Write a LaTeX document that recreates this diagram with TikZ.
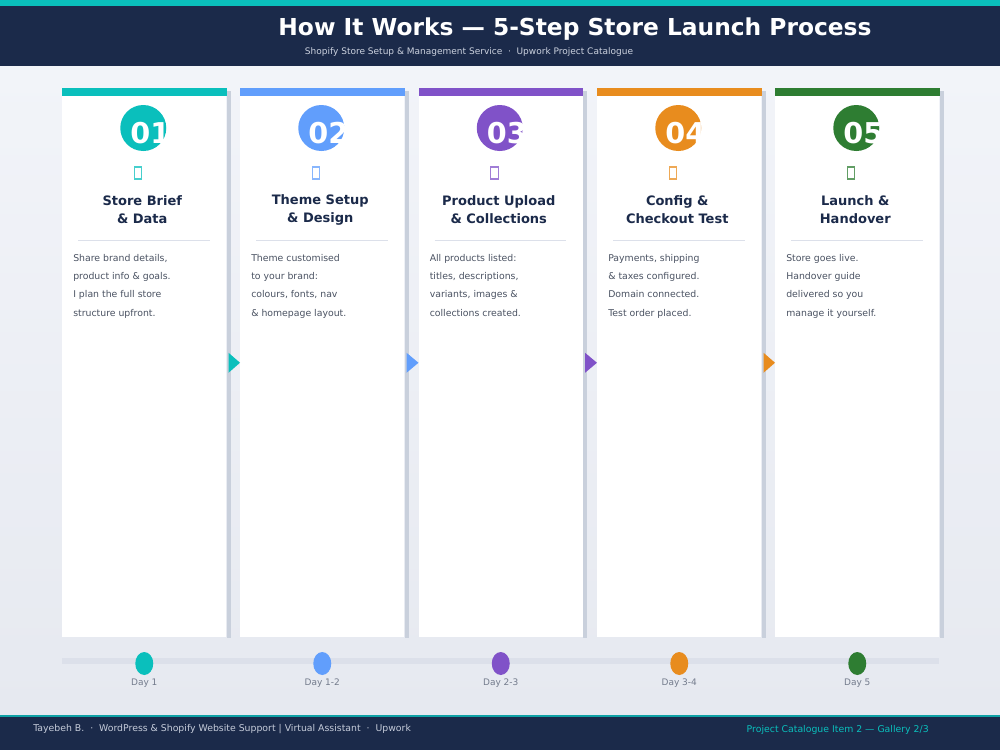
\documentclass[tikz,border=0pt]{standalone}
\usepackage{fontspec}
\setmainfont{DejaVu Sans}
\usepackage{tikz}
\usetikzlibrary{positioning,calc}
\definecolor{navy}{HTML}{1B2A4A}
\definecolor{tealc}{HTML}{0ABFBC}
\definecolor{bluec}{HTML}{619EFC}
\definecolor{purplec}{HTML}{8052C8}
\definecolor{orangec}{HTML}{E88C1E}
\definecolor{greenc}{HTML}{2E7D32}
\definecolor{bodygrey}{HTML}{4A5262}
\definecolor{daygrey}{HTML}{737B8C}
\definecolor{trackgrey}{HTML}{DCE0EA}
\definecolor{shadowgrey}{HTML}{C9D0DC}
\definecolor{footgrey}{HTML}{C5CCDA}
\definecolor{bgtop}{HTML}{F2F4F9}
\definecolor{bgbottom}{HTML}{E6E9F0}
% one step card: id, left x, colour, number, title, body, day
\newcommand{\stepcard}[7]{%
  \node[card, anchor=north west] (c#1) at (#2,88) {};
  \fill[shadowgrey] ($(c#1.north east)+(0,3)$) rectangle ($(c#1.south east)+(4,0)$);
  \fill[#3] (c#1.north west) rectangle ($(c#1.north east)+(0,7.5)$);
  \node[numdot, fill=#3] (n#1) at ($(c#1.north)+(-1,40)$) {};
  \begin{scope}
    \clip (n#1) circle (23);
    \node[numtext] (t#1) at ($(n#1)+(7,5)$) {#4};
  \end{scope}
  \draw[#3!75, line width=0.8pt] ($(c#1.north)+(-10,79)$) rectangle ($(c#1.north)+(-2.5,91)$);
  \node[steptitle] (h#1) at ($(c#1.north)+(-2,122)$) {#5};
  \draw[trackgrey, line width=0.6pt] ($(c#1.north west)+(16,152)$) -- ($(c#1.north east)+(-17,152)$);
  \node[stepbody] (b#1) at ($(c#1.north west)+(11,166)$) {#6};
  \fill[#3] (c#1.center |- 0,663.5) ellipse (9 and 11.5);
  \node[daylabel] (d#1) at (c#1.center |- 0,683.5) {#7};
}

\begin{document}
\begin{tikzpicture}[x=0.75pt, y=-0.75pt]
  \tikzset{
    card/.style={fill=white, minimum width=123pt, minimum height=411.75pt, inner sep=0pt},
    numdot/.style={circle, minimum size=34.5pt, inner sep=0pt},
    numtext/.style={text=white, font=\fontsize{21.5}{24}\selectfont\bfseries, inner sep=0pt},
    steptitle/.style={text=navy, align=center, font=\fontsize{9.75}{13.5}\selectfont\bfseries, inner sep=0pt},
    stepbody/.style={text=bodygrey, align=left, anchor=north west, font=\fontsize{7}{13.7}\selectfont, inner sep=0pt},
    daylabel/.style={text=daygrey, font=\fontsize{6.75}{8}\selectfont, inner sep=0pt},
  }
  \useasboundingbox (0,0) rectangle (1000,750);
  % background, header and footer
  \shade[top color=bgtop, bottom color=bgbottom] (0,66) rectangle (1000,716);
  \fill[navy] (0,0) rectangle (1000,66);
  \fill[tealc] (0,0) rectangle (1000,6);
  \node[text=white, font=\fontsize{17.5}{20}\selectfont\bfseries, inner sep=0pt] (title) at (575,29) {How It Works — 5-Step Store Launch Process};
  \node[text=footgrey!90!white, font=\fontsize{6.75}{8}\selectfont, inner sep=0pt] (subtitle) at (469,52) {Shopify Store Setup \& Management Service \ · \ Upwork Project Catalogue};
  \fill[tealc!80!navy] (0,714.5) rectangle (1000,717);
  \fill[navy] (0,717) rectangle (1000,750);
  \node[text=footgrey, font=\fontsize{7}{9}\selectfont, inner sep=0pt, anchor=west] (author) at (33,729.5) {Tayebeh B. \ · \ WordPress \& Shopify Website Support | Virtual Assistant \ · \ Upwork};
  \node[text=tealc, font=\fontsize{7}{9}\selectfont, inner sep=0pt, anchor=east] (gallery) at (929,729.5) {Project Catalogue Item 2 — Gallery 2/3};
  % timeline track
  \fill[trackgrey] (62,658) rectangle (939,664);
  % the five steps
  \stepcard{1}{62}{tealc}{01}{Store Brief\\ \& Data}{Share brand details,\\product info \& goals.\\I plan the full store\\structure upfront.}{Day 1}
  \stepcard{2}{240}{bluec}{02}{Theme Setup\\\& Design}{Theme customised\\to your brand:\\colours, fonts, nav\\\& homepage layout.}{Day 1-2}
  \stepcard{3}{418.5}{purplec}{03}{Product Upload\\\& Collections}{All products listed:\\titles, descriptions,\\variants, images \&\\collections created.}{Day 2-3}
  \stepcard{4}{597}{orangec}{04}{Config \&\\Checkout Test}{Payments, shipping\\\& taxes configured.\\Domain connected.\\Test order placed.}{Day 3-4}
  \stepcard{5}{775}{greenc}{05}{Launch \&\\Handover}{Store goes live.\\Handover guide\\delivered so you\\manage it yourself.}{Day 5}
  % arrows between cards
  \fill[tealc] ($(c1.east)+(2,-10)$) -- (c2.west) -- ($(c1.east)+(2,10)$) -- cycle;
  \fill[bluec] ($(c2.east)+(2,-10)$) -- (c3.west) -- ($(c2.east)+(2,10)$) -- cycle;
  \fill[purplec] ($(c3.east)+(2,-10)$) -- (c4.west) -- ($(c3.east)+(2,10)$) -- cycle;
  \fill[orangec] ($(c4.east)+(2,-10)$) -- (c5.west) -- ($(c4.east)+(2,10)$) -- cycle;
\end{tikzpicture}
\end{document}
